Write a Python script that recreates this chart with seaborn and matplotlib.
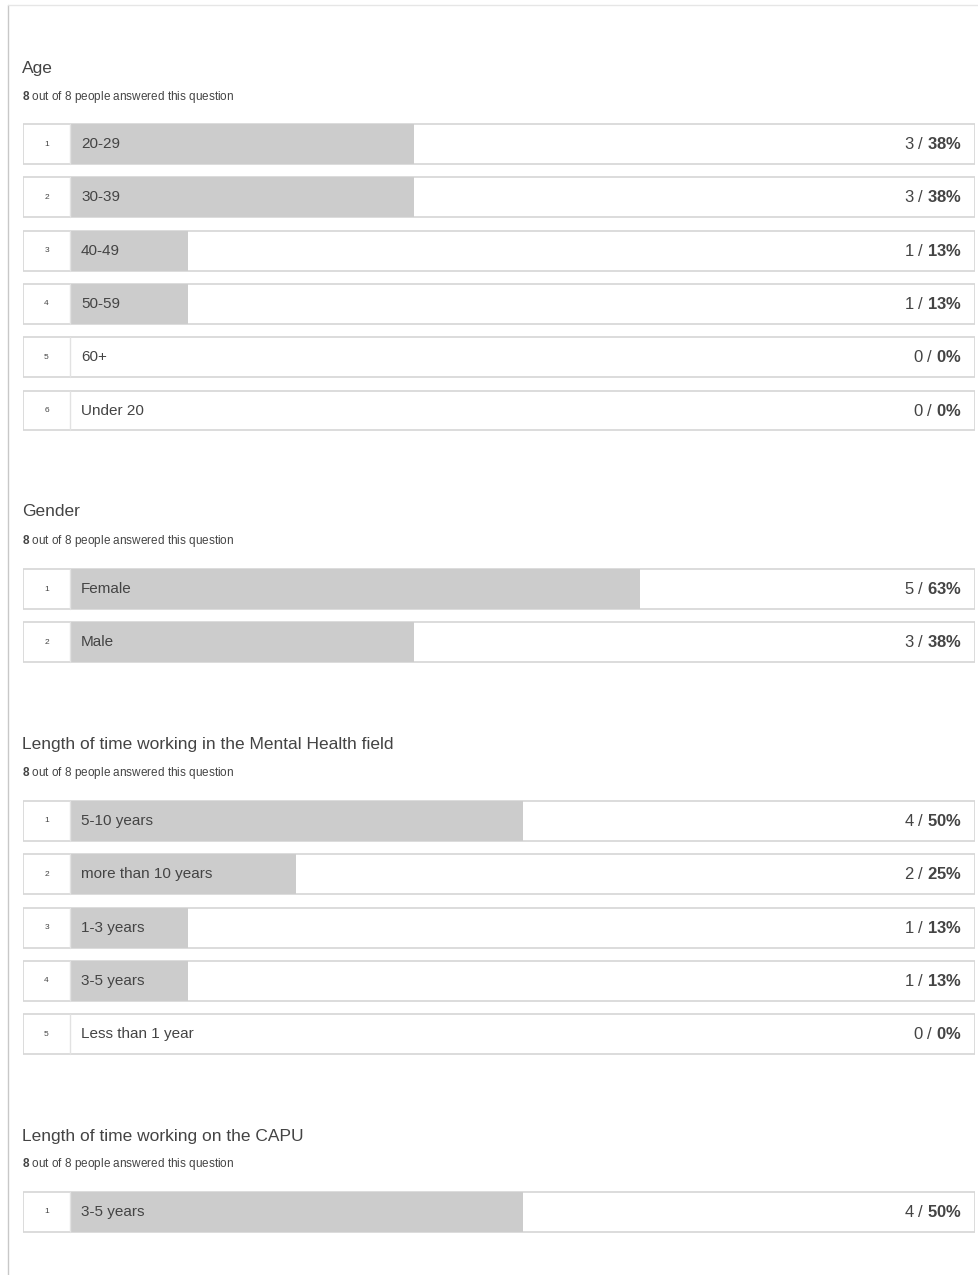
import matplotlib
matplotlib.use("Agg")
import matplotlib.pyplot as plt
import seaborn as sns
import pandas as pd
from matplotlib.patches import Rectangle
from matplotlib.lines import Line2D

# ---------------- data ----------------
age_labels = ["20-29", "30-39", "40-49", "50-59", "60+", "Under 20"]
age_counts = [3, 3, 1, 1, 0, 0]
age_pct = [38, 38, 13, 13, 0, 0]

gender_labels = ["Female", "Male"]
gender_counts = [5, 3]
gender_pct = [63, 38]

mh_labels = ["5-10 years", "more than 10 years", "1-3 years", "3-5 years", "Less than 1 year"]
mh_counts = [4, 2, 1, 1, 0]
mh_pct = [50, 25, 13, 13, 0]

capu_labels = ["3-5 years"]
capu_counts = [4]
capu_pct = [50]

titles = ["Age", "Gender", "Length of time working in the Mental Health field",
          "Length of time working on the CAPU"]
answered = [8, 8, 8, 8]
total = [8, 8, 8, 8]

sections = [
    (age_labels, age_counts, age_pct),
    (gender_labels, gender_counts, gender_pct),
    (mh_labels, mh_counts, mh_pct),
    (capu_labels, capu_counts, capu_pct),
]

# ---------------- style ----------------
sns.set_theme(style="white")
plt.rcParams["font.family"] = ["Liberation Sans", "DejaVu Sans"]
plt.rcParams["mathtext.fontset"] = "custom"
plt.rcParams["mathtext.rm"] = "Liberation Sans"
plt.rcParams["mathtext.bf"] = "Liberation Sans:bold"

W, H = 979, 1275
fig = plt.figure(figsize=(W / 100, H / 100), dpi=100)
fig.patch.set_facecolor("white")

# page frame
fig.add_artist(Line2D([8 / W, 8 / W], [0, 1 - 5 / H], color="#c8c8c8", lw=1))
fig.add_artist(Line2D([8 / W, 1], [1 - 5 / H, 1 - 5 / H], color="#e6e6e6", lw=1))

# layout (pixels)
row_step = 53.3
first_row_center = [144, 589, 821, 1212]
title_y = [68, 512, 744, 1136]
sub_y = [97, 541, 773, 1164]
box_left, num_right, box_right = 23, 70, 975
scale = box_right - num_right  # px for 100%

text_col = "#444444"

for i, (labels, counts, pcts) in enumerate(sections):
    n = len(labels)
    top_px = first_row_center[i] - row_step / 2
    bot_px = top_px + n * row_step
    ax = fig.add_axes([box_left / W, 1 - bot_px / H, (box_right - box_left) / W, (bot_px - top_px) / H])
    df = pd.DataFrame({"label": labels, "frac": [p / 100 for p in pcts]})
    xmin = -(num_right - box_left) / scale
    bh = 0.75
    # row boxes
    for j in range(n):
        ax.add_patch(Rectangle((xmin, j - bh / 2), 1 - xmin, bh, facecolor="white",
                               edgecolor="#d6d6d6", lw=1.2, zorder=0))
    sns.barplot(data=df, x="frac", y="label", orient="h", color="#cccccc",
                width=bh, saturation=1, ax=ax, zorder=2, linewidth=0)
    for j in range(n):
        ax.plot([0, 0], [j - bh / 2, j + bh / 2], color="#e2e2e2", lw=1, zorder=3)
        ax.text(xmin / 2, j, str(j + 1), ha="center", va="center", fontsize=6,
                color=text_col, zorder=4)
        ax.text((81 - num_right) / scale, j, labels[j], ha="left", va="center",
                fontsize=11, color=text_col, zorder=4)
        ax.text((962 - num_right) / scale, j, f"{counts[j]} / $\\mathbf{{{pcts[j]}\\%}}$",
                ha="right", va="center", fontsize=12, color=text_col, zorder=4)
    ax.set_xlim(xmin, 1)
    ax.set_ylim(n - 0.5, -0.5)
    ax.axis("off")

    fig.text(22 / W, 1 - title_y[i] / H, titles[i], ha="left", va="center",
             fontsize=12.5, color=text_col)
    fig.text(22 / W, 1 - sub_y[i] / H,
             f"$\\mathbf{{{answered[i]}}}$ out of {total[i]} people answered this question",
             ha="left", va="center", fontsize=8.5, color=text_col)

fig.savefig("out.png", dpi=100, facecolor="white")
